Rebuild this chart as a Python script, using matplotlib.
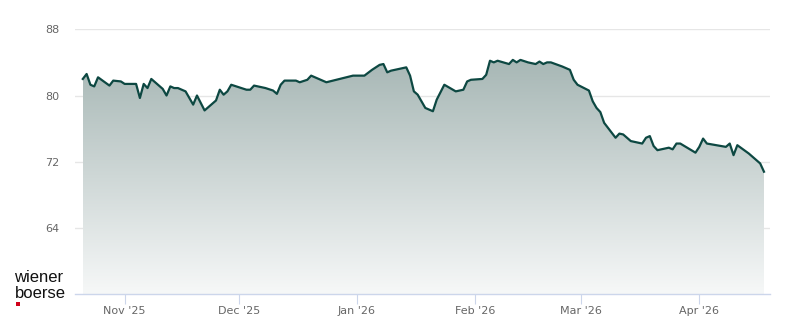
import numpy as np
import pandas as pd
import matplotlib
matplotlib.use("Agg")
import matplotlib.pyplot as plt
import matplotlib.dates as mdates
from matplotlib.patches import Polygon, Rectangle

# price series (calendar dates, value)
dates = [
    "2025-10-21", "2025-10-22", "2025-10-23", "2025-10-24", "2025-10-25",
    "2025-10-28", "2025-10-29", "2025-10-31", "2025-11-01",
    "2025-11-04", "2025-11-05", "2025-11-06", "2025-11-07", "2025-11-08",
    "2025-11-11", "2025-11-12", "2025-11-13", "2025-11-14", "2025-11-15",
    "2025-11-17", "2025-11-19", "2025-11-20", "2025-11-22", "2025-11-25",
    "2025-11-26", "2025-11-27", "2025-11-28", "2025-11-29",
    "2025-12-01", "2025-12-03", "2025-12-04", "2025-12-05", "2025-12-08",
    "2025-12-10", "2025-12-11", "2025-12-12", "2025-12-13", "2025-12-16",
    "2025-12-17", "2025-12-19", "2025-12-20", "2025-12-24", "2025-12-31",
    "2026-01-03", "2026-01-05", "2026-01-07", "2026-01-08", "2026-01-09",
    "2026-01-10", "2026-01-14", "2026-01-15", "2026-01-16", "2026-01-17",
    "2026-01-19", "2026-01-21", "2026-01-22", "2026-01-24", "2026-01-27",
    "2026-01-29", "2026-01-30", "2026-01-31",
    "2026-02-03", "2026-02-04", "2026-02-05", "2026-02-06", "2026-02-07",
    "2026-02-10", "2026-02-11", "2026-02-12", "2026-02-13", "2026-02-15",
    "2026-02-17", "2026-02-18", "2026-02-19", "2026-02-20", "2026-02-21",
    "2026-02-24", "2026-02-26", "2026-02-27", "2026-02-28",
    "2026-03-03", "2026-03-04", "2026-03-05", "2026-03-06", "2026-03-07",
    "2026-03-10", "2026-03-11", "2026-03-12", "2026-03-14", "2026-03-17",
    "2026-03-18", "2026-03-19", "2026-03-20", "2026-03-21", "2026-03-24",
    "2026-03-25", "2026-03-26", "2026-03-27", "2026-03-31",
    "2026-04-01", "2026-04-02", "2026-04-03", "2026-04-08", "2026-04-09",
    "2026-04-10", "2026-04-11", "2026-04-14", "2026-04-15", "2026-04-17",
    "2026-04-18",
]
prices = [
    82.0, 82.6, 81.3, 81.1, 82.2,
    81.2, 81.8, 81.7, 81.4,
    81.4, 79.7, 81.4, 80.9, 82.0,
    80.8, 80.0, 81.1, 80.9, 80.9,
    80.5, 78.9, 80.0, 78.2, 79.4,
    80.7, 80.1, 80.5, 81.3,
    81.0, 80.7, 80.7, 81.2, 80.9,
    80.6, 80.2, 81.3, 81.8, 81.8,
    81.6, 81.9, 82.4, 81.6, 82.4,
    82.4, 83.1, 83.7, 83.8, 82.8,
    83.0, 83.4, 82.4, 80.5, 80.1,
    78.5, 78.1, 79.5, 81.3, 80.5,
    80.7, 81.7, 81.9,
    82.0, 82.5, 84.2, 84.0, 84.2,
    83.8, 84.3, 84.0, 84.3, 84.0,
    83.8, 84.1, 83.8, 84.0, 84.0,
    83.5, 83.1, 81.9, 81.3,
    80.6, 79.3, 78.5, 78.0, 76.7,
    74.9, 75.4, 75.3, 74.5, 74.2,
    74.9, 75.1, 73.9, 73.4, 73.7,
    73.5, 74.2, 74.2, 73.1,
    73.8, 74.8, 74.2, 73.8, 74.2,
    72.8, 74.0, 73.0, 72.6, 71.8,
    70.8,
]
y_ticks = [64, 72, 80, 88]
month_ticks = ["2025-11-01", "2025-12-01", "2026-01-01", "2026-02-01", "2026-03-01", "2026-04-01"]

x = mdates.date2num(pd.to_datetime(dates))
y = np.array(prices)
ymin, ymax = 56, 88

fig = plt.figure(figsize=(8, 3.24), dpi=100)
ax = fig.add_axes([0.094, 0.0917, 0.8685, 0.818])

ax.set_xlim(mdates.date2num(pd.Timestamp("2025-10-19")), mdates.date2num(pd.Timestamp("2026-04-19 14:00")))
ax.set_ylim(ymin, ymax)

# gradient area under the line
top_col = np.array([0.655, 0.718, 0.710])
bot_col = np.array([0.965, 0.972, 0.972])
top_val = y.max()
t = np.clip((np.linspace(ymin, top_val, 256) - ymin) / (top_val - ymin), 0, 1).reshape(-1, 1)
img = bot_col + (top_col - bot_col) * t[..., None]
im = ax.imshow(img, extent=(x[0], x[-1], ymin, top_val), origin="lower",
               aspect="auto", zorder=1)
poly = Polygon(np.column_stack([np.r_[x[0], x, x[-1]], np.r_[ymin, y, ymin]]),
               closed=True, transform=ax.transData, facecolor="none", edgecolor="none")
ax.add_patch(poly)
im.set_clip_path(poly)

ax.plot(x, y, color="#0d4842", lw=1.6, zorder=3, solid_joinstyle="round")

# grid and axes styling
for v in y_ticks:
    ax.axhline(v, color="#e6e6e6", lw=1, zorder=0)
for s in ["top", "right", "left"]:
    ax.spines[s].set_visible(False)
ax.spines["bottom"].set_color("#ccd6eb")
ax.spines["bottom"].set_linewidth(1)

ax.set_yticks(y_ticks)
ax.set_yticklabels([str(v) for v in y_ticks])
ax.tick_params(axis="y", length=0, pad=11.5, labelcolor="#666666", labelsize=8)

mt = mdates.date2num(pd.to_datetime(month_ticks))
ax.set_xticks(mt)
ax.set_xticklabels(pd.to_datetime(month_ticks).strftime("%b '%y"))
ax.tick_params(axis="x", length=7, color="#ccd6eb", pad=1.5, labelcolor="#666666", labelsize=8)

# logo
fig.text(14.5 / 800, 1 - 282 / 324, "wiener", fontsize=12, family="Liberation Sans",
         color="#111111", va="baseline", ha="left")
fig.text(14.5 / 800, 1 - 298 / 324, "boerse", fontsize=12, family="Liberation Sans",
         color="#111111", va="baseline", ha="left")
fig.patches.append(Rectangle((16 / 800, 1 - 306 / 324), 4 / 800, 4 / 324,
                             transform=fig.transFigure, facecolor="#d0021b", edgecolor="none"))

fig.savefig("out.png", dpi=100)
